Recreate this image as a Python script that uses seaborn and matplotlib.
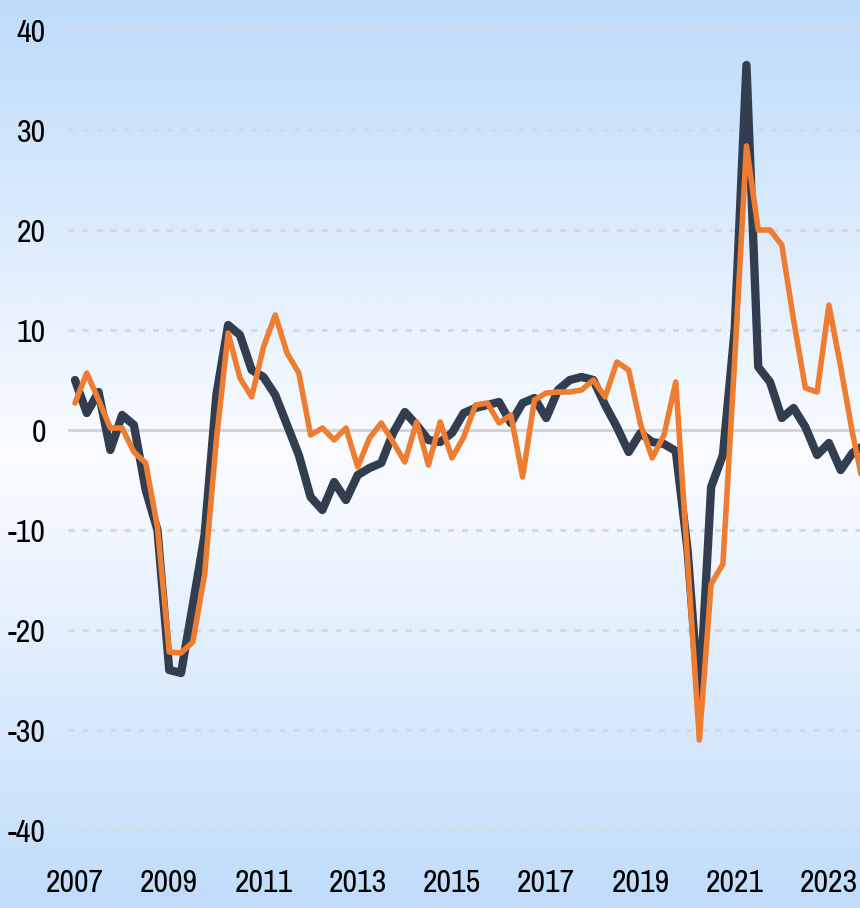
import numpy as np
import pandas as pd
import matplotlib
matplotlib.use("Agg")
import matplotlib.pyplot as plt
import seaborn as sns
from matplotlib import font_manager
from matplotlib.colors import LinearSegmentedColormap

# ---- data (quarterly, 2007Q1 .. 2023Q4) ----
start_year = 2007
series_dark = [5, 1.7, 3.8, -2, 1.5, 0.5, -6, -10, -24, -24.3, -17.5, -10.5,
               3.5, 10.5, 9.5, 6, 5.3, 3.5, 0.5, -2.5, -6.7, -8, -5.2, -7,
               -4.5, -3.8, -3.3, -0.3, 1.8, 0.5, -1, -1.2, -0.3, 1.7, 2.2, 2.5,
               2.8, 0.7, 2.7, 3.2, 1.2, 4, 5, 5.3, 5, 2.5, 0.3, -2.2,
               -0.3, -1.2, -1.4, -2.1, -12, -27.5, -5.7, -2.5, 10, 36.5, 6.3, 4.8,
               1.2, 2.2, 0.3, -2.5, -1.3, -4, -2.3, -1.5]
series_orange = [2.7, 5.7, 3, 0.2, 0.2, -2.2, -3.3, -9.7, -22.2, -22.3, -21.2, -14.5,
                 -1, 9.7, 5.2, 3.3, 8.3, 11.5, 7.7, 5.7, -0.5, 0.2, -1, 0.2,
                 -3.7, -0.8, 0.7, -1.2, -3.2, 0.8, -3.5, 0.8, -2.8, -0.7, 2.5, 2.7,
                 0.7, 1.5, -4.7, 3, 3.7, 3.8, 3.8, 4, 5, 3.3, 6.8, 6,
                 0.6, -2.8, -0.5, 4.8, -13, -31, -15.4, -13.4, 7, 28.4, 20, 20,
                 18.5, 11, 4.2, 3.8, 12.5, 6.3, -0.3, -6]
x_ticks = [2007, 2009, 2011, 2013, 2015, 2017, 2019, 2021, 2023]
y_ticks = [-40, -30, -20, -10, 0, 10, 20, 30, 40]

t = start_year + np.arange(len(series_dark)) * 0.25
df = pd.DataFrame({"t": np.concatenate([t, t]),
                   "value": series_dark + series_orange,
                   "series": ["dark"] * len(t) + ["orange"] * len(t)})

# ---- fonts: prefer a narrow / condensed face if one is installed ----
sns.set_style("white")
fam, stretch, condensed = "DejaVu Sans", "normal", False
narrow_stretch = ("condensed", "semi-condensed", "extra-condensed", "ultra-condensed")
for f in font_manager.fontManager.ttflist:
    nm = f.name
    st = str(f.stretch)
    if ("Narrow" in nm or "Condensed" in nm or st in narrow_stretch) and f.style == "normal":
        fam, stretch, condensed = nm, st, True
        if "Narrow" in nm or "Condensed" in nm:
            break
plt.rcParams["font.family"] = [fam, "DejaVu Sans"]
label_size = 23 if condensed else 18

W, H = 860, 908
fig = plt.figure(figsize=(W / 100, H / 100), dpi=100)

# background gradient
bg = fig.add_axes([0, 0, 1, 1], zorder=-10)
cmap = LinearSegmentedColormap.from_list(
    "bg", [(0.0, "#BDDBFA"), (0.5, "#FAFCFF"), (1.0, "#C0DCFA")])
grad = np.linspace(0, 1, 512).reshape(-1, 1)
bg.imshow(grad, cmap=cmap, aspect="auto", extent=[0, 1, 0, 1], origin="upper")
bg.set_axis_off()

# main axes: left edge at px 68, zero at px 430, 10 px per unit
px_per_year = 47.12
left_px = 68
ax = fig.add_axes([left_px / W, (H - 850) / H, (W - left_px) / W, 840 / H])
ax.set_facecolor("none")
x0 = start_year - (75 - left_px) / px_per_year
ax.set_xlim(x0, x0 + (W - left_px) / px_per_year)
ax.set_ylim(-42, 42)

for yv in y_ticks:
    if yv == 0:
        ax.axhline(0, color="#D3D3D3", lw=2.2, zorder=1)
    else:
        ax.axhline(yv, color="#D9D9D9", lw=2.2, ls=(0, (2.0, 2.6)), zorder=1)

sns.lineplot(data=df, x="t", y="value", hue="series",
             palette={"dark": "#323E50", "orange": "#EE7D31"},
             hue_order=["dark", "orange"], legend=False, ax=ax,
             estimator=None, sort=False)
lines = ax.get_lines()[-2:]
lines[0].set_linewidth(6.0)
lines[1].set_linewidth(4.0)
for ln in lines:
    ln.set_solid_joinstyle("round")
    ln.set_solid_capstyle("round")
lines[0].set_zorder(3)
lines[1].set_zorder(4)

ax.set_xticks(x_ticks)
ax.set_xticklabels([str(v) for v in x_ticks])
ax.set_yticks(y_ticks)
ax.set_yticklabels([str(v) for v in y_ticks])
ax.tick_params(axis="both", length=0, labelsize=label_size, colors="black")
ax.tick_params(axis="y", pad=16)
ax.tick_params(axis="x", pad=14)
for lab in ax.get_xticklabels() + ax.get_yticklabels():
    lab.set_fontstretch(stretch)
ax.set_xlabel("")
ax.set_ylabel("")
for s in ax.spines.values():
    s.set_visible(False)
ax.grid(False)

fig.savefig("out.png", dpi=100)
